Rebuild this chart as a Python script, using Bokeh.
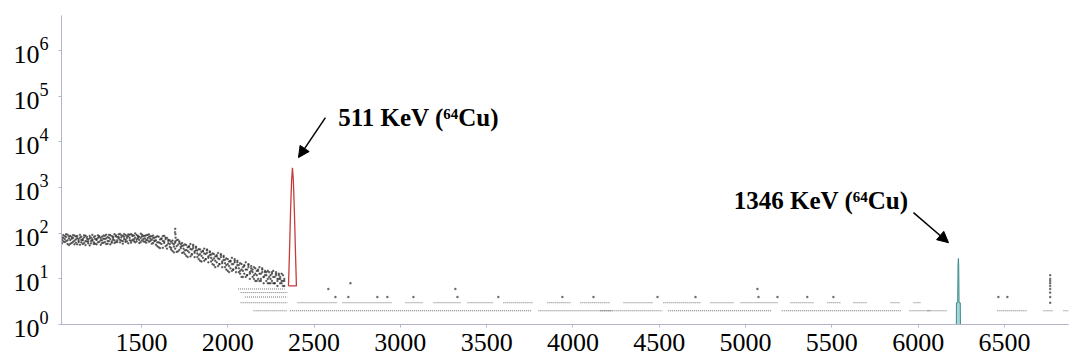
import numpy as np
from bokeh.plotting import figure
from bokeh.models import Range1d, FixedTicker, LogTickFormatter, Label, Arrow, NormalHead
from bokeh.embed import file_html
from bokeh.resources import INLINE

# ---------------- data ----------------
x_ticks = [1500, 2000, 2500, 3000, 3500, 4000, 4500, 5000, 5500, 6000, 6500]
y_ticks = [1, 10, 100, 1000, 10000, 100000, 1000000]

# Compton continuum on the left: channel grid every 8 channels (1040 ... 2328)
cloud_x = list(range(1040, 2329, 8))
cloud_a = [72, 91, 64, 83, 58, 77, 88, 61, 79, 69, 85, 57, 74, 92, 63, 70, 81, 55, 76, 66,
           87, 60, 73, 82, 59, 71, 90, 65, 78, 84, 62, 75, 93, 68, 80, 57, 86, 72, 95, 64,
           83, 77, 97, 69, 88, 74, 91, 66, 85, 79, 96, 71, 89, 63, 92, 76, 84, 98, 70, 87,
           65, 90, 78, 83, 68, 86, 61, 80,
           70, 52, 84, 61, 77, 48, 66, 80, 55, 72,
           58, 44, 69, 51, 62, 39, 56, 66, 47, 53,
           46, 35, 55, 41, 50, 31, 44, 52, 37, 42,
           36, 27, 44, 32, 40, 25, 35, 42, 29, 33,
           29, 21, 35, 25, 31, 19, 27, 33, 22, 26,
           22, 16, 27, 19, 24, 15, 21, 25, 17, 20,
           17, 13, 21, 15, 19, 11, 16, 20, 13, 15,
           14, 10, 17, 12, 15, 9, 13, 16, 11, 12,
           12, 8, 14, 10, 13, 8, 11, 13, 9, 10,
           10, 8, 12, 9]
cloud_b = [60, 79, 86, 67, 93, 55, 71, 82, 65, 89, 62, 78, 68, 56, 84, 75, 61, 88, 66, 73,
           54, 80, 69, 58, 86, 74, 63, 83, 56, 70, 89, 64, 77, 59, 92, 74, 66, 84, 61, 90,
           70, 94, 63, 81, 67, 96, 72, 86, 60, 93, 68, 87, 74, 99, 66, 82, 71, 64, 93, 75,
           88, 62, 70, 94, 76, 59, 89, 67,
           56, 86, 63, 47, 75, 68, 88, 52, 79, 60,
           70, 48, 60, 38, 66, 52, 72, 43, 58, 61,
           38, 57, 43, 30, 52, 45, 34, 56, 40, 48,
           30, 45, 35, 24, 41, 36, 27, 44, 31, 38,
           24, 36, 28, 18, 33, 28, 21, 35, 24, 30,
           18, 28, 21, 14, 25, 21, 16, 27, 18, 23,
           14, 22, 16, 11, 20, 16, 12, 21, 14, 17,
           11, 18, 13, 9, 16, 13, 10, 17, 11, 14,
           9, 15, 11, 8, 14, 11, 8, 14, 10, 12,
           8, 13, 9, 7]
cloud_c = [81, 66, 74, 95, 70, 85, 59, 76, 91, 57, 73, 87, 64, 80, 71, 58, 90, 67, 83, 60,
           77, 68, 92, 63, 75, 57, 79, 86, 70, 61, 76, 88, 58, 82, 67, 91, 62, 79, 70, 85,
           64, 82, 72, 90, 59, 83, 65, 78, 94, 70, 62, 91, 67, 80, 73, 88, 61, 79, 85, 66,
           77, 71, 92, 65, 85, 72, 78, 69,
           82, 63, 49, 73, 58, 86, 61, 74, 46, 67,
           50, 65, 41, 57, 46, 70, 40, 61, 51, 37,
           54, 42, 32, 49, 38, 58, 35, 47, 30, 51,
           42, 33, 25, 39, 29, 46, 27, 37, 23, 40,
           34, 26, 20, 31, 23, 37, 21, 30, 18, 32,
           26, 20, 15, 24, 17, 29, 16, 23, 14, 25,
           20, 15, 11, 18, 13, 23, 12, 18, 10, 19,
           16, 12, 9, 15, 10, 18, 9, 14, 8, 15,
           14, 10, 8, 12, 9, 15, 8, 12, 7, 13,
           11, 9, 7, 10]

spike_x = [1695, 1696, 1697, 1698]
spike_y = [105, 125, 95, 80]

# 511 keV peak (red outline)
p511_x = [2352, 2358, 2364, 2370, 2375, 2380, 2386, 2392, 2398, 2352]
p511_y = [7, 40, 300, 1400, 2700, 1500, 320, 45, 7, 7]

# 1346 keV peak (teal)
p1346_x = [6221, 6222, 6229, 6231, 6233, 6235, 6237, 6244, 6245]
p1346_y = [1, 3, 3, 20, 28, 20, 3, 3, 1]

# single-count baseline runs
base_x0 = [2100, 2360]
base_x1 = [2345, 6871]
base_y = [1, 1]

# low-count bands: runs of channels at a given count
band_x0 = [2150, 2360, 3800, 4159, 4550, 5210, 5950, 6054, 6459, 6726, 6842,
           2075, 2404, 2665, 3030, 3192, 3389, 3597, 3852, 4043, 4293, 4524, 4797, 4971,
           5260, 5474, 5625, 5840, 5973,
           2100, 2075, 2060]
band_x1 = [2345, 3760, 4230, 4520, 5150, 5900, 6070, 6170, 6633, 6784, 6871,
           2345, 2636, 2954, 3134, 3348, 3540, 3771, 3985, 4217, 4466, 4739, 4930, 5185,
           5393, 5550, 5706, 5897, 6013,
           2345, 2345, 2330]
band_y = [2, 2, 2, 2, 2, 2, 2, 2, 2, 2, 2,
          3, 3, 3, 3, 3, 3, 3, 3, 3, 3, 3, 3, 3,
          3, 3, 3, 3, 3,
          4, 5, 6]

# sparse higher-count points on the right
sparse_x = [2583, 2624, 2699, 2711, 2867, 2925, 3076, 3319, 3331, 3568, 3939, 4119,
            4490, 4710, 5069, 5075, 5185, 5358, 5509, 6465, 6517,
            6765, 6765, 6765, 6765, 6765, 6765, 6765, 6765, 6765]
sparse_y = [6, 4, 4, 8, 4, 4, 4, 6, 4, 4, 4, 4,
            4, 4, 6, 4, 4, 4, 4, 4, 4,
            3, 4, 5, 6, 7, 8, 9, 10, 12]

# annotations (data units)
lab1_xy = (2640, 34000)
lab2_xy = (4932, 520)
arr1 = (2566, 34000, 2410, 4540)
arr2 = (5973, 283, 6176, 62)

# ---------------- figure ----------------
p = figure(width=1069, height=356, x_range=Range1d(1037, 6871), y_range=Range1d(1, 5.9e6),
           y_axis_type="log", output_backend="svg", toolbar_location=None,
           min_border_left=61, min_border_top=15, min_border_right=1, min_border_bottom=32)
p.outline_line_color = None
p.grid.visible = False
p.background_fill_color = "white"
p.border_fill_color = "white"

axis_col = "#b4b4cc"
for ax in (p.xaxis, p.yaxis):
    ax.axis_line_color = axis_col
    ax.major_tick_line_color = axis_col
    ax.minor_tick_line_color = None
    ax.major_tick_in = 0
    ax.major_tick_out = 3
    ax.major_label_text_font = "Liberation Serif"
    ax.major_label_text_font_size = "26px"
    ax.major_label_text_color = "black"
p.xaxis.ticker = FixedTicker(ticks=x_ticks)
p.yaxis.ticker = FixedTicker(ticks=y_ticks)
p.yaxis.formatter = LogTickFormatter()
p.xaxis.major_label_standoff = 6
p.yaxis.major_label_standoff = 10

# baseline and bands
p.segment(x0=base_x0, y0=base_y, x1=base_x1, y1=base_y, line_color="#2a2a2a",
          line_width=1.2, line_dash="3 1")
p.segment(x0=band_x0, y0=band_y, x1=band_x1, y1=band_y, line_color="#333333",
          line_width=1, line_dash="1 1", line_alpha=0.7)

# cloud
for ys in (cloud_a, cloud_b, cloud_c):
    p.scatter(cloud_x, ys, size=1.3, color="#333333", alpha=0.6, marker="square")
p.scatter(spike_x, spike_y, size=1.4, color="#555555", alpha=0.7, marker="square")
p.scatter(sparse_x, sparse_y, size=1.4, color="#555555", alpha=0.7, marker="square")

# peaks
p.line(p511_x, p511_y, line_color="#c43c3c", line_width=1.3)
p.patch(p1346_x, p1346_y, fill_color="#a6d6d6", line_color="#3d8b8b", line_width=1)

# annotations
for (lx, ly), txt in ((lab1_xy, "511 KeV (\u2076\u2074Cu)"), (lab2_xy, "1346 KeV (\u2076\u2074Cu)")):
    p.add_layout(Label(x=lx, y=ly, text=txt, text_font="Liberation Serif",
                       text_font_style="bold", text_font_size="25px", text_color="black",
                       text_baseline="alphabetic"))
for (xs, ys, xe, ye) in (arr1, arr2):
    p.add_layout(Arrow(x_start=xs, y_start=ys, x_end=xe, y_end=ye, line_color="black",
                       line_width=1.5,
                       end=NormalHead(size=11, fill_color="black", line_color="black")))

open("out.html", "w").write(file_html(p, INLINE))
